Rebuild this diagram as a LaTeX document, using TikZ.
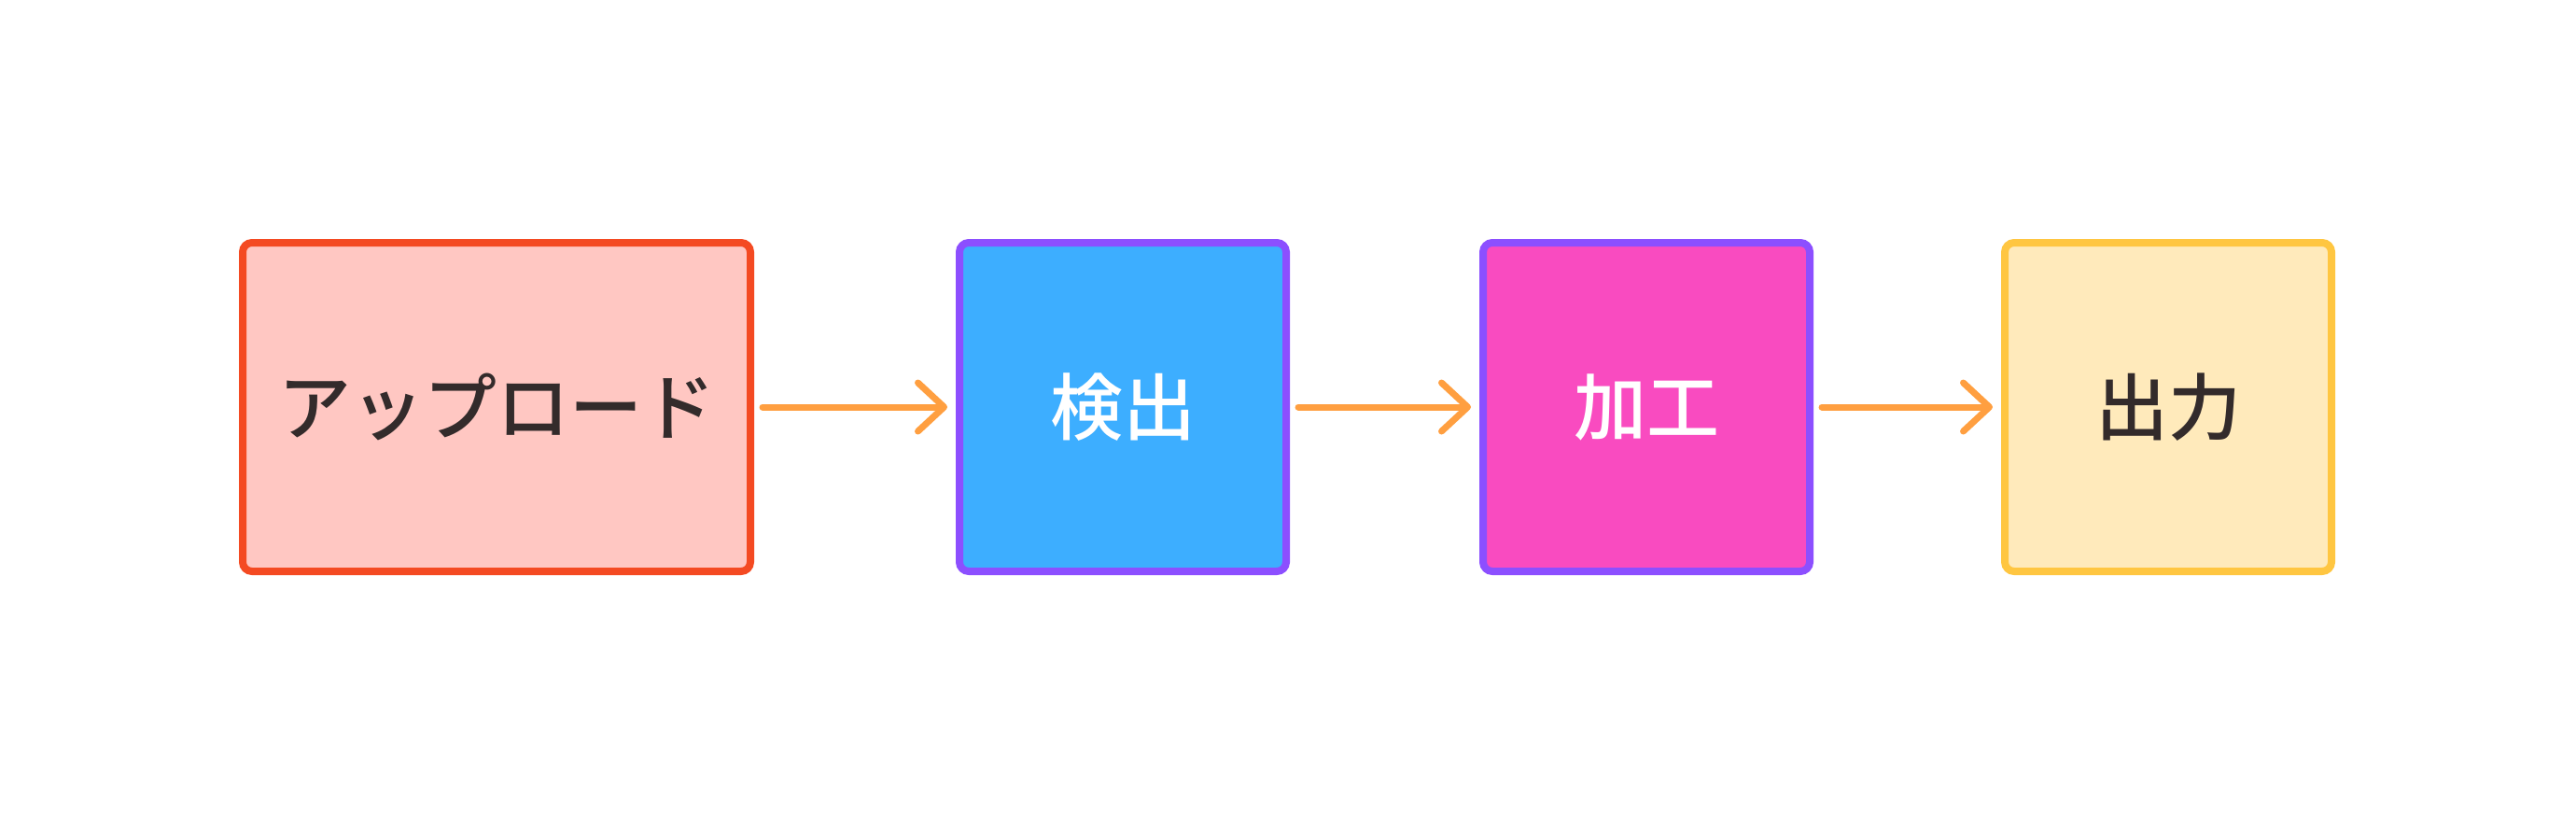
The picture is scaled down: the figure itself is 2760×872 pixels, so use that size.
\documentclass[tikz,border=0pt]{standalone}
\usepackage{fontspec}
\newfontfamily\cjk{Noto Sans CJK JP Medium}
\usetikzlibrary{arrows.meta}
\definecolor{bAfill}{HTML}{FFC7C2}
\definecolor{bAdraw}{HTML}{F44A22}
\definecolor{bBfill}{HTML}{3DAEFF}
\definecolor{bBdraw}{HTML}{8C4FFF}
\definecolor{bCfill}{HTML}{F94BC0}
\definecolor{bDfill}{HTML}{FFEABB}
\definecolor{bDdraw}{HTML}{FFC641}
\definecolor{arr}{HTML}{FF9F40}
\definecolor{txt}{HTML}{332B2B}
\tikzset{
  box/.style={rounded corners=5pt, line width=4pt, minimum height=176pt,
    font=\cjk\fontsize{39}{46}\selectfont, inner sep=0pt},
  conn/.style={draw=arr, line width=3.5pt, line cap=round,
    -{Straight Barb[length=14pt,width=26pt,round]},
    shorten <=4.5pt, shorten >=4.5pt},
}
\begin{document}
\begin{tikzpicture}[x=0.5pt,y=-0.5pt]
\useasboundingbox (0,0) rectangle (2760,872);
\node[box, fill=bAfill, draw=bAdraw, text=txt, minimum width=272pt] (up) at (532,436) {アップロード};
\node[box, fill=bBfill, draw=bBdraw, text=white, minimum width=175pt] (det) at (1203,436) {検出};
\node[box, fill=bCfill, draw=bBdraw, text=white, minimum width=175pt] (proc) at (1764,436) {加工};
\node[box, fill=bDfill, draw=bDdraw, text=txt, minimum width=175pt] (out) at (2323,436) {出力};
\draw[conn] (up) -- (det);
\draw[conn] (det) -- (proc);
\draw[conn] (proc) -- (out);
\end{tikzpicture}
\end{document}
